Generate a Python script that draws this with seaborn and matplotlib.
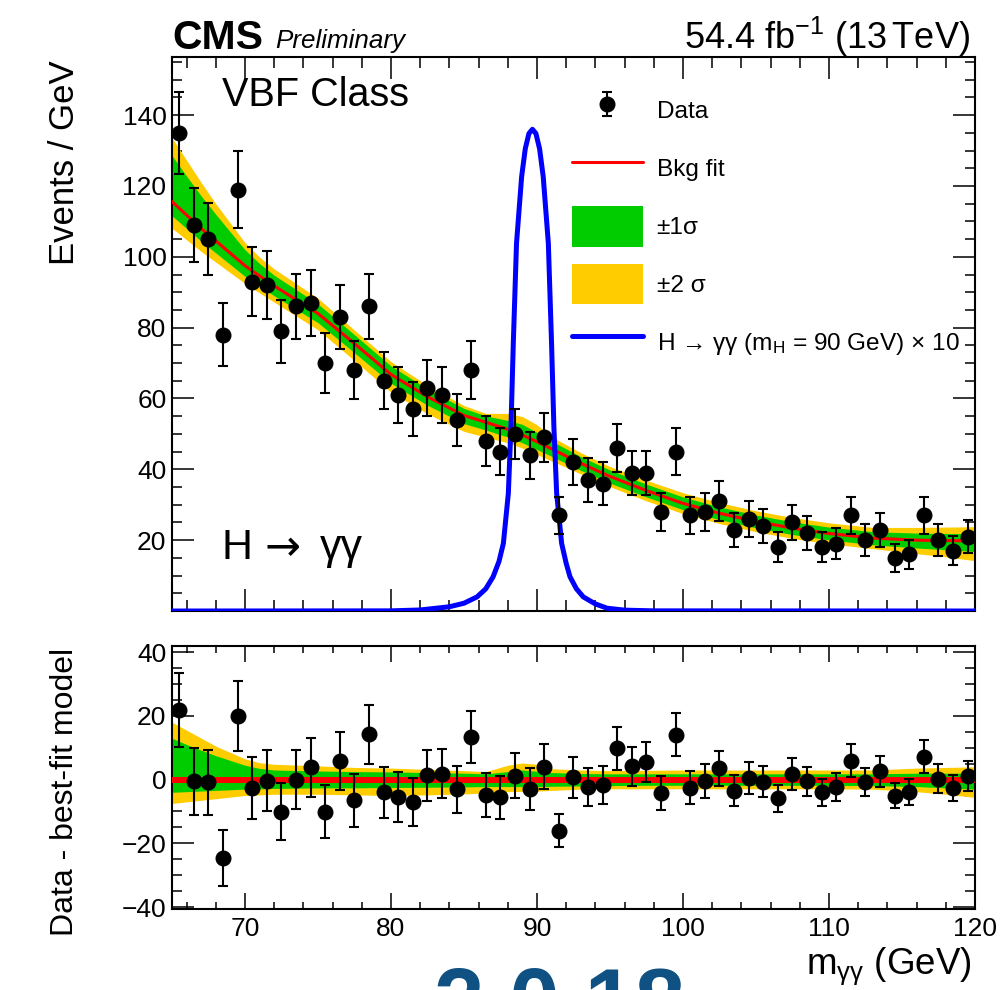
import numpy as np
import matplotlib
matplotlib.use("Agg")
import matplotlib.pyplot as plt
import seaborn as sns
from matplotlib.lines import Line2D
from matplotlib.patches import Patch
from matplotlib.ticker import MultipleLocator, FixedLocator

# ---------------- data ----------------
bin_centres = [65.5, 66.5, 67.5, 68.5, 69.5, 70.5, 71.5, 72.5, 73.5, 74.5,
               75.5, 76.5, 77.5, 78.5, 79.5, 80.5, 81.5, 82.5, 83.5, 84.5,
               85.5, 86.5, 87.5, 88.5, 89.5, 90.5, 91.5, 92.5, 93.5, 94.5,
               95.5, 96.5, 97.5, 98.5, 99.5, 100.5, 101.5, 102.5, 103.5, 104.5,
               105.5, 106.5, 107.5, 108.5, 109.5, 110.5, 111.5, 112.5, 113.5, 114.5,
               115.5, 116.5, 117.5, 118.5, 119.5]
events = [135, 109, 105, 78, 119, 93, 92, 79, 86, 87,
          70, 83, 68, 86, 65, 61, 57, 63, 61, 54,
          68, 48, 45, 50, 44, 49, 27, 42, 37, 36,
          46, 39, 39, 28, 45, 27, 28, 31, 23, 26,
          24, 18, 25, 22, 18, 19, 27, 20, 23, 15,
          16, 27, 20, 17, 21]
residuals = [21.9, -0.6, -0.9, -24.5, 20.0, -2.7, -0.4, -10.1, 0.0, 3.8,
             -10.1, 5.7, -6.5, 14.2, -4.0, -5.4, -7.0, 1.3, 1.9, -3.0,
             13.3, -4.8, -5.6, 1.2, -3.0, 4.0, -16.1, 0.7, -2.3, -1.6,
             9.8, 4.1, 5.6, -4.1, 14.1, -2.5, -0.4, 3.5, -3.5, 0.5,
             -0.7, -5.9, 1.7, -0.6, -4.0, -2.4, 5.9, -0.7, 2.6, -5.1,
             -3.9, 7.2, 0.3, -2.7, 1.1]

# background fit and its uncertainty bands (offsets from the fit)
fit_mass = [65, 66, 67, 68, 69, 70, 71, 72, 75, 77.5, 80, 82.5, 85, 86.5, 88,
            89, 90, 91, 93, 95, 97.5, 100, 102.5, 105, 107.5, 110, 113, 116, 118, 120]
bkg_fit = [115.6, 111.8, 108.0, 104.5, 101.0, 97.5, 94.6, 91.8, 84.0, 75.5, 66.8, 60.5, 55.2, 53.3, 51.3,
           49.7, 47.8, 45.8, 41.7, 38.0, 34.0, 30.4, 27.6, 25.3, 23.4, 21.9, 20.6, 20.0, 19.9, 19.8]
two_sigma_up = [18.0, 15.5, 13.0, 10.5, 8.5, 6.5, 5.3, 4.8, 4.3, 3.8, 3.6, 3.2, 2.8, 2.5, 4.5,
                5.2, 4.8, 3.4, 3.0, 2.8, 2.9, 3.0, 3.0, 3.0, 3.0, 3.0, 3.0, 3.6, 3.8, 4.0]
one_sigma_up = [13.0, 11.0, 9.2, 7.5, 6.0, 4.5, 3.5, 3.0, 2.7, 2.5, 2.4, 2.2, 2.0, 1.8, 2.5,
                3.0, 2.6, 2.2, 1.9, 1.8, 1.8, 1.8, 1.8, 1.8, 1.8, 1.8, 1.8, 2.0, 2.0, 2.0]
one_sigma_dn = [-4.0, -3.8, -3.6, -3.4, -3.2, -3.0, -2.9, -2.8, -2.6, -2.6, -2.5, -2.4, -2.3, -2.2, -2.2,
                -2.2, -2.2, -2.1, -2.0, -1.9, -1.8, -1.8, -1.8, -1.8, -1.8, -1.8, -1.9, -2.2, -2.6, -3.0]
two_sigma_dn = [-7.5, -7.0, -6.5, -6.0, -5.5, -5.0, -4.8, -4.6, -4.6, -4.8, -5.0, -4.8, -4.5, -4.2, -3.8,
                -3.7, -3.6, -3.4, -3.0, -2.9, -2.9, -2.9, -2.9, -2.9, -2.9, -2.9, -3.0, -3.8, -4.6, -5.6]

# signal model (x10)
sig_mass = [65, 80, 82.0, 84.0, 85.0, 85.9, 86.5, 87.0, 87.4, 87.7, 88.04, 88.22, 88.38, 88.6,
            88.95, 89.2, 89.45, 89.69, 89.93, 90.18, 90.43, 90.78, 91.0, 91.16, 91.35, 91.69,
            92.0, 92.26, 92.7, 93.17, 94.0, 94.8, 96.0, 98.0, 120]
sig_yield = [0, 0.05, 0.3, 1.2, 2.2, 4.0, 6.3, 9.7, 14.0, 19.1, 33.2, 52.0, 75.6, 103.8,
             122.6, 130.5, 134.8, 136.0, 134.8, 130.5, 122.6, 103.8, 75.6, 52.0, 33.2, 19.1,
             13.5, 9.7, 6.3, 4.0, 2.0, 0.8, 0.25, 0.05, 0]

x_ticks = [70, 80, 90, 100, 110, 120]
top_y_ticks = [20, 40, 60, 80, 100, 120, 140]
low_y_ticks = [-40, -20, 0, 20, 40]

# ---------------- style ----------------
sns.set_theme(style="ticks")
plt.rcParams['font.family'] = ['Liberation Sans', 'DejaVu Sans']
plt.rcParams['text.color'] = 'black'
plt.rcParams['axes.labelcolor'] = 'black'
plt.rcParams['mathtext.fontset'] = 'custom'
plt.rcParams['mathtext.rm'] = 'Liberation Sans'
plt.rcParams['mathtext.it'] = 'Liberation Sans:italic'
plt.rcParams['mathtext.bf'] = 'Liberation Sans:bold'
plt.rcParams['mathtext.fallback'] = 'stixsans'

YELLOW = '#FFCC00'
GREEN = '#00CC00'
RED = '#FF0000'
BLUE = '#0000FF'

fig = plt.figure(figsize=(10.05, 9.9), dpi=100)
ax1 = fig.add_axes([0.1711, 0.3828, 0.7990, 0.5596])
ax2 = fig.add_axes([0.1711, 0.0818, 0.7990, 0.2657])

m = np.array(fit_mass)
b = np.array(bkg_fit)
errs = np.sqrt(np.array(events, dtype=float))

# ---- upper panel ----
ax1.fill_between(m, b + np.array(two_sigma_dn), b + np.array(two_sigma_up), color=YELLOW, lw=0, zorder=1)
ax1.fill_between(m, b + np.array(one_sigma_dn), b + np.array(one_sigma_up), color=GREEN, lw=0, zorder=2)
sns.lineplot(x=fit_mass, y=bkg_fit, color=RED, lw=2.2, ax=ax1, zorder=3, estimator=None)
sns.lineplot(x=sig_mass, y=sig_yield, color=BLUE, lw=3.6, ax=ax1, zorder=4, estimator=None, sort=False)
data_cont = ax1.errorbar(bin_centres, events, yerr=errs, fmt='o', color='black', ms=10.5,
                         elinewidth=1.5, capsize=3.3, capthick=1.5, zorder=6)

ax1.set_xlim(65, 120)
ax1.set_ylim(0, 156.4)
ax1.set_xlabel('')
ax1.set_ylabel('')

# ---- lower panel ----
ax2.fill_between(m, two_sigma_dn, two_sigma_up, color=YELLOW, lw=0, zorder=1)
ax2.fill_between(m, one_sigma_dn, one_sigma_up, color=GREEN, lw=0, zorder=2)
sns.lineplot(x=[65, 120], y=[0, 0], color=RED, lw=4.3, ax=ax2, zorder=3, estimator=None)
ax2.errorbar(bin_centres, residuals, yerr=errs, fmt='o', color='black', ms=10.5,
             elinewidth=1.5, capsize=3.3, capthick=1.5, zorder=6)
ax2.set_xlim(65, 120)
ax2.set_ylim(-40.6, 41.9)
ax2.set_xlabel('')
ax2.set_ylabel('')

# ---- ticks ----
for ax in (ax1, ax2):
    for s in ax.spines.values():
        s.set_linewidth(1.5)
        s.set_color('black')
    ax.tick_params(which='both', direction='in', top=True, right=True, width=1.1,
                   color='black', labelcolor='black', labelsize=19)
    ax.xaxis.set_major_locator(FixedLocator(x_ticks))
    ax.xaxis.set_minor_locator(MultipleLocator(2))
    ax.yaxis.set_minor_locator(MultipleLocator(5))

ax1.yaxis.set_major_locator(FixedLocator(top_y_ticks))
ax2.yaxis.set_major_locator(FixedLocator(low_y_ticks))
ax1.tick_params(axis='x', which='major', length=15.8, labelbottom=False)
ax1.tick_params(axis='x', which='minor', length=7.9)
ax1.tick_params(axis='y', which='major', length=15.8, pad=4)
ax1.tick_params(axis='y', which='minor', length=7.2)
ax2.tick_params(axis='x', which='major', length=11.5, pad=6)
ax2.tick_params(axis='x', which='minor', length=5.0)
ax2.tick_params(axis='y', which='major', length=15.8, pad=4)
ax2.tick_params(axis='y', which='minor', length=7.2)
ax2.set_yticklabels(['\u221240', '\u221220', '0', '20', '40'])

# ---- legend ----
handles = [data_cont,
           Line2D([], [], color=RED, lw=2.2),
           Patch(facecolor=GREEN, edgecolor='none'),
           Patch(facecolor=YELLOW, edgecolor='none'),
           Line2D([], [], color=BLUE, lw=3.6)]
labels = ['Data', 'Bkg fit', '\u00b11\u03c3', '\u00b12 \u03c3',
          'H \u2192 \u03b3\u03b3 (m$_{\\mathregular{H}}$ = 90 GeV) \u00d7 10']
ax1.legend(handles, labels, loc='upper left', bbox_to_anchor=(0.498, 0.9406),
           frameon=False, fontsize=17.6, handlelength=2.9, handleheight=2.19,
           labelspacing=0.7, handletextpad=0.57, borderpad=0, borderaxespad=0)

# ---- texts ----
ax1.text(0.0623, 0.931, 'VBF Class', transform=ax1.transAxes, fontsize=28.5,
         ha='left', va='center')
ax1.text(0.0623, 0.1137, 'H', transform=ax1.transAxes, fontsize=31,
         ha='left', va='center')
ax1.text(0.1150, 0.1137, '\u2192', transform=ax1.transAxes, fontsize=31,
         family=['DejaVu Sans'], ha='left', va='center')
ax1.text(0.1843, 0.1137, '\u03b3\u03b3', transform=ax1.transAxes, fontsize=31,
         ha='left', va='center')

fig.text(172 / 1005, 1 - 49 / 990, 'CMS', fontsize=29.5, fontweight='bold',
         ha='left', va='baseline')
fig.text(275 / 1005, 1 - 48 / 990, 'Preliminary', fontsize=18.7, fontstyle='italic',
         ha='left', va='baseline')
fig.text(970 / 1005, 1 - 49 / 990, '54.4 fb$^{\\mathregular{-1}}$ (13$\\,$TeV)', fontsize=26,
         ha='right', va='baseline')

fig.text(0.0637, 1 - 60 / 990, 'Events / GeV', fontsize=25, rotation=90,
         ha='center', va='top')
fig.text(0.0647, 1 - 648 / 990, 'Data - best-fit model', fontsize=23, rotation=90,
         ha='center', va='top')
fig.text(972 / 1005, 1 - 966 / 990, 'm$_{\\mathregular{\u03b3\u03b3}}$ (GeV)', fontsize=26.5,
         ha='right', va='center')

# partially visible watermark at the very bottom (cut by the figure edge, as in the reference)
fig.text(434 / 1005, -0.0424, '2 0 18', fontsize=65, fontweight='bold', color='#0e5182',
         ha='left', va='baseline')

fig.savefig('out.png', dpi=100)
